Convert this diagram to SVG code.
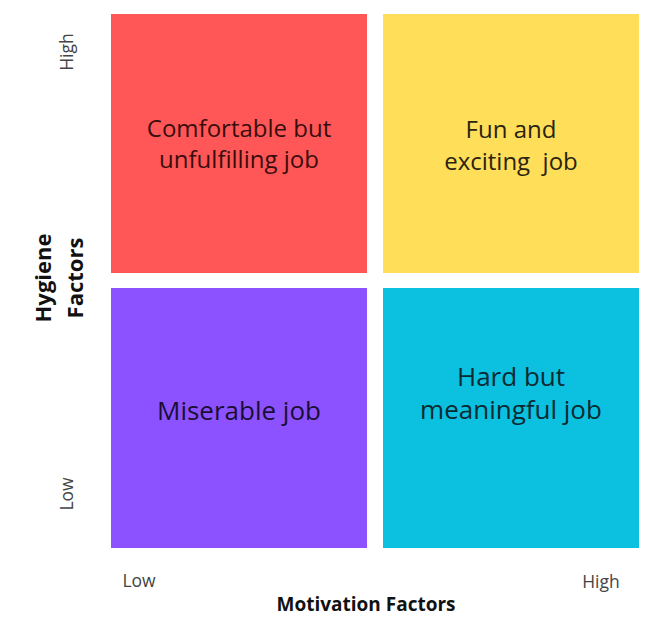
<svg xmlns="http://www.w3.org/2000/svg" width="667" height="627" viewBox="0 0 667 627">
<style>
.q{font-family:"Open Sans","Liberation Sans",sans-serif;font-size:24px;text-anchor:middle}
.qb{font-size:26px}
.ax{font-family:"Open Sans","Liberation Sans",sans-serif;font-size:17.5px;fill:#444;text-anchor:middle}
.axt{font-family:"Open Sans","Liberation Sans",sans-serif;font-weight:bold;fill:#111;text-anchor:middle}
</style>
<rect width="667" height="627" fill="#ffffff"/>
<g id="q-comfortable">
<rect x="111" y="14" width="256" height="259" fill="#FF5757"/>
<text class="q" fill="#3a0d0d" x="239" y="137">Comfortable but</text>
<text class="q" fill="#3a0d0d" x="239" y="168">unfulfilling job</text>
</g>
<g id="q-fun">
<rect x="383" y="14" width="256" height="259" fill="#FFDE59"/>
<text class="q" fill="#2a2410" x="511" y="138">Fun and</text>
<text class="q" fill="#2a2410" x="511" y="170" xml:space="preserve">exciting  job</text>
</g>
<g id="q-miserable">
<rect x="111" y="288" width="256" height="260" fill="#8C52FF"/>
<text class="q qb" fill="#1a0f33" x="239" y="420">Miserable job</text>
</g>
<g id="q-hard">
<rect x="383" y="288" width="256" height="260" fill="#0CC0DF"/>
<text class="q qb" fill="#0a2a33" x="511" y="386">Hard but</text>
<text class="q qb" fill="#0a2a33" x="511" y="419">meaningful job</text>
</g>
<g id="axes">
<text class="ax" transform="translate(73,52) rotate(-90)">High</text>
<text class="ax" transform="translate(73,494) rotate(-90)">Low</text>
<text class="axt" style="font-size:22px" transform="translate(51,278) rotate(-90)">Hygiene</text>
<text class="axt" style="font-size:22px" transform="translate(83,278) rotate(-90)">Factors</text>
<text class="ax" x="139" y="587">Low</text>
<text class="ax" x="601" y="588">High</text>
<text class="axt" style="font-size:19px" x="366" y="611">Motivation Factors</text>
</g>
</svg>
